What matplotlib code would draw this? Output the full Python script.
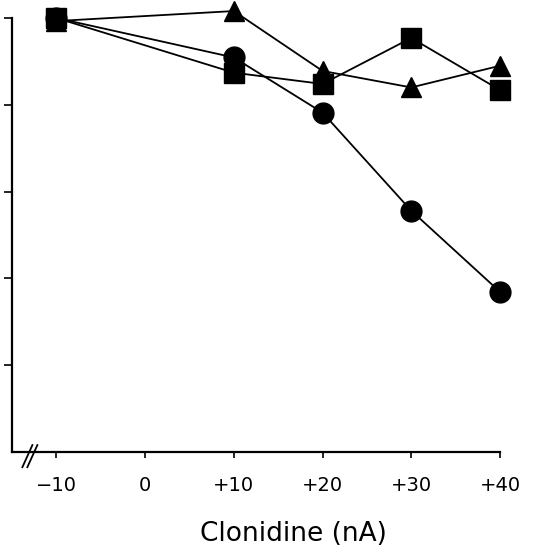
import matplotlib.pyplot as plt
import numpy as np

#---------------- datos ------------
dosis = [-10, 10, 20, 30, 40]
circulos = [100, 90.9, 78.2, 55.6, 36.9]
triangulos = [99.3, 101.6, 87.8, 84.0, 89.0]
cuadrados = [100, 87.4, 84.8, 95.4, 83.4]

x_ticks = [-10, 0, 10, 20, 30, 40]
x_labels = ["\u221210", "0", "+10", "+20", "+30", "+40"]
y_ticks = [20, 40, 60, 80, 100]

fig = plt.figure(figsize=(5.35, 5.55), dpi=100)
W, H = 535, 555
ax = fig.add_axes([12 / W, (H - 452) / H, (500 - 12) / W, (452 - 18) / H])

estilo = dict(color="black", lw=1.3, clip_on=False, zorder=3)
ax.plot(dosis, triangulos, marker="^", markersize=14, **estilo)
ax.plot(dosis, cuadrados, marker="s", markersize=15, **estilo)
ax.plot(dosis, circulos, marker="o", markersize=15, **estilo)

ax.set_xlim(-15, 40)
ax.set_ylim(0, 100)

ax.spines["top"].set_visible(False)
ax.spines["right"].set_visible(False)
ax.spines["left"].set_linewidth(1.6)
ax.spines["bottom"].set_linewidth(1.6)

ax.set_xticks(x_ticks)
ax.set_xticklabels(x_labels, fontsize=14)
ax.set_yticks(y_ticks)
ax.set_yticklabels([])
ax.tick_params(axis="x", direction="out", length=4, width=1.2, pad=13)
ax.tick_params(axis="y", direction="out", length=6, width=1.2)

ax.set_xlabel("Clonidine (nA)", fontsize=19)
ax.xaxis.set_label_coords(0.576, -0.16)

# marcas de corte del eje x
for dx in [0, 0.56]:
    ax.plot([-13.83 + dx, -12.7 + dx], [-3.5, 1.6], color="black", lw=1.3,
            clip_on=False)

fig.savefig("out.png", dpi=100)
